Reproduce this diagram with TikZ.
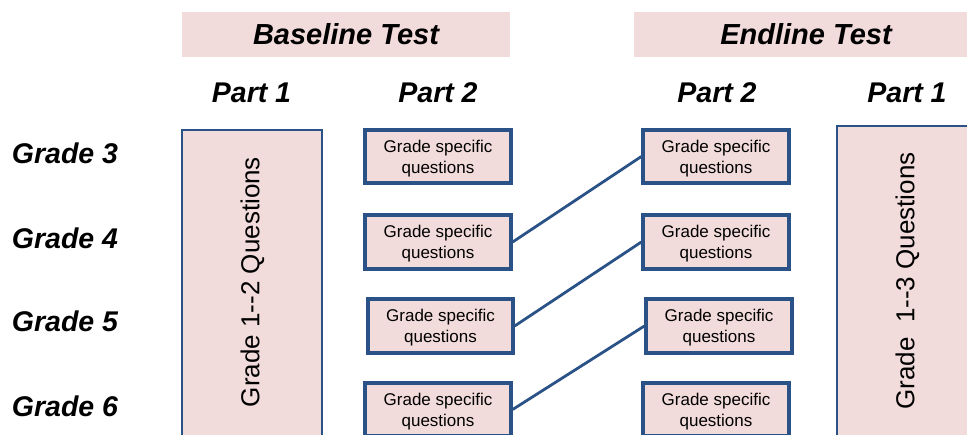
\documentclass[tikz,border=0pt]{standalone}
\usepackage{fontspec}
\setmainfont{Liberation Sans}
\definecolor{boxfill}{HTML}{F2DCDB}
\definecolor{boxline}{HTML}{2A5287}
\tikzset{
  banner/.style={fill=boxfill, draw=none, minimum height=45pt, inner sep=0pt,
    font=\fontsize{29}{32}\selectfont\bfseries\itshape},
  headtext/.style={inner sep=0pt, font=\fontsize{28.5}{32}\selectfont\bfseries\itshape},
  gradetext/.style={inner sep=0pt, font=\fontsize{28.5}{32}\selectfont\bfseries\itshape},
  smallbox/.style={fill=boxfill, draw=boxline, line width=3.3pt, minimum width=146pt,
    minimum height=53pt, inner sep=0pt, align=center, text depth=0pt,
    font=\fontsize{17}{21}\selectfont},
  bigbox/.style={fill=boxfill, draw=boxline, line width=2.5pt, inner sep=0pt},
  vtext/.style={inner sep=0pt, rotate=90, font=\fontsize{26}{30}\selectfont},
  link/.style={draw=boxline, line width=2.8pt}
}
\begin{document}
\begin{tikzpicture}[x=1pt, y=-1pt]
\path[use as bounding box, clip] (0,0) rectangle (967,434);
% banners
\node[banner, minimum width=328pt] (base) at (346,34.5) {Baseline Test};
\node[banner, minimum width=344pt] (endl) at (806,34.5) {Endline Test};
% part labels
\node[headtext] (bp1) at (251.5,92.5) {Part 1};
\node[headtext] (bp2) at (438,92.5) {Part 2};
\node[headtext] (ep2) at (717,92.5) {Part 2};
\node[headtext] (ep1) at (907,92.5) {Part 1};
% grade labels
\node[gradetext] (g3) at (65,153.5) {Grade 3};
\node[gradetext] (g4) at (65,238.5) {Grade 4};
\node[gradetext] (g5) at (65,321) {Grade 5};
\node[gradetext] (g6) at (65,406) {Grade 6};
% big boxes
\node[bigbox, minimum width=140pt, minimum height=330pt] (bbig) at (252,295) {};
\node[bigbox, minimum width=143pt, minimum height=334pt] (ebig) at (908.5,293) {};
\node[vtext] (bvt) at (252.5,282) {Grade 1-{}-2 Questions};
\node[vtext] (evt) at (907.5,281) {Grade\ \ 1-{}-3 Questions};
% small boxes baseline
\node[smallbox] (b1) at (438,156.5) {Grade specific\\questions};
\node[smallbox, minimum height=54pt] (b2) at (438,242) {Grade specific\\questions};
\node[smallbox, minimum width=145pt, minimum height=54pt] (b3) at (440.5,326) {Grade specific\\questions};
\node[smallbox] (b4) at (438,409.5) {Grade specific\\questions};
% small boxes endline
\node[smallbox] (e1) at (716,156.5) {Grade specific\\questions};
\node[smallbox, minimum height=54pt] (e2) at (716,242) {Grade specific\\questions};
\node[smallbox, minimum height=54pt] (e3) at (719,326) {Grade specific\\questions};
\node[smallbox] (e4) at (716,409.5) {Grade specific\\questions};
% links
\draw[link] (b2.east) -- (e1.west);
\draw[link] (b3.east) -- (e2.west);
\draw[link] (b4.east) -- (e3.west);
\end{tikzpicture}
\end{document}
